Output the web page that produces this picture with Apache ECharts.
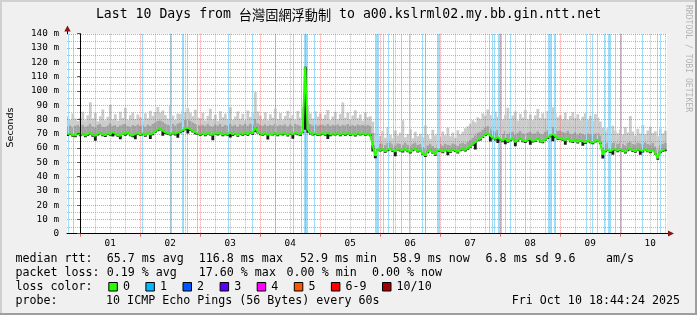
<!DOCTYPE html>
<html><head><meta charset="utf-8">
<script src="https://cdn.jsdelivr.net/npm/echarts@6/dist/echarts.min.js"></script>
<style>html,body{margin:0;padding:0;background:#f0f0f0}#c{width:697px;height:315px}</style>
</head><body><div id="c"></div>
<script>
// time: hours from Oct 1 00:00; first hourly sample at Sep 30 19:00
const firstHour = -5;
const xMin = -5.26, xMax = 234.74;
// median rtt (ms)
const med = [
69.5,70.2,69.1,68.8,70.4,
69.3,70.1,68.7,69.8,70.6,69.2,68.5,69.9,70.8,69.4,68.9,70.3,69.6,71.2,70.0,69.1,68.6,70.5,69.8,70.9,69.3,68.8,69.7,70.4,
69.6,70.2,69.0,70.7,69.5,70.1,71.8,72.9,73.4,72.2,71.0,70.4,69.8,70.6,69.9,70.8,71.5,72.4,73.6,74.2,73.1,72.0,70.9,70.2,
69.7,70.3,69.4,70.6,69.8,69.2,70.5,69.9,70.7,69.3,70.1,69.6,70.8,69.5,70.2,69.0,70.4,69.8,70.6,69.7,71.0,70.3,74.5,71.2,
70.1,69.6,70.4,69.3,70.0,69.8,70.6,69.4,70.2,69.9,70.5,69.2,70.3,69.7,70.8,70.1,69.5,71.4,116.8,73.2,70.6,69.8,70.4,69.5,
69.9,70.3,69.6,70.7,69.4,70.1,69.8,70.5,69.3,70.2,69.7,70.6,69.5,70.0,69.2,70.4,69.8,70.3,69.6,70.1,69.4,62.0,54.5,59.3,
58.6,59.2,57.8,58.9,59.5,58.3,57.6,59.1,58.7,58.0,59.4,58.2,57.3,58.8,59.6,57.9,58.4,56.2,54.8,57.5,58.9,57.1,55.6,58.3,
58.7,57.4,58.9,58.1,57.6,59.0,58.3,57.2,58.8,59.4,58.6,59.9,61.2,62.7,64.1,65.8,66.4,68.1,69.5,70.3,68.7,67.2,66.4,67.6,
66.3,65.1,66.8,64.7,65.9,66.5,64.3,65.6,66.9,65.2,64.6,65.8,66.4,64.9,65.3,66.7,65.0,64.4,66.1,67.4,68.6,69.8,68.2,66.9,
67.1,66.2,65.4,66.8,65.1,64.6,65.9,64.2,65.3,64.8,63.9,65.2,64.5,63.7,64.9,65.6,63.8,55.4,58.2,59.1,57.6,58.8,59.4,58.1,
59.0,58.4,57.2,58.9,59.6,58.3,57.7,59.2,58.6,57.9,59.3,58.1,57.5,58.8,56.3,52.9,57.4,58.5,58.9
];
// lowest ping (ms)
const lo = [
68.4,69.1,67.9,67.6,69.3,
68.2,69.0,67.5,68.6,69.5,67.9,65.1,68.8,69.6,68.3,67.7,69.1,68.5,68.0,68.9,67.9,66.2,69.4,68.6,69.7,68.2,67.6,66.1,69.2,
68.5,69.0,67.8,69.6,66.3,68.9,70.6,71.7,72.2,68.5,69.8,69.3,68.7,69.5,68.7,67.2,70.4,71.2,72.5,70.1,72.0,70.9,69.7,69.1,
68.6,69.2,68.3,69.4,68.7,65.4,69.4,68.8,69.6,68.2,69.0,68.5,67.3,68.4,69.1,67.9,69.3,68.6,69.5,68.6,69.9,69.2,71.0,70.1,
69.0,68.5,69.3,66.0,68.9,68.7,69.5,68.3,69.1,68.8,69.4,68.1,69.2,66.4,69.7,69.0,68.4,70.3,72.8,70.6,69.5,68.7,69.3,68.4,
68.8,69.2,68.5,66.3,68.3,69.0,68.7,69.4,68.2,69.1,68.6,69.5,68.4,68.9,68.1,69.3,68.7,69.2,68.5,69.0,68.3,57.5,52.8,58.2,
57.5,58.1,56.7,57.8,58.4,57.2,54.3,58.0,57.6,56.9,58.3,57.1,56.2,57.7,58.5,56.8,57.3,55.1,53.7,56.4,57.8,56.0,54.5,57.2,
57.6,56.3,57.8,55.0,56.5,57.9,57.2,56.1,57.7,58.3,57.5,58.8,60.1,61.6,58.9,64.7,65.3,67.0,68.4,69.2,64.6,66.1,65.3,63.5,
65.2,64.0,62.7,63.6,64.8,65.4,61.2,64.5,65.8,64.1,63.5,64.7,62.3,63.8,64.2,65.6,63.9,63.3,65.0,66.3,67.5,64.7,67.1,65.8,
66.0,65.1,62.3,65.7,64.0,63.5,64.8,63.1,64.2,61.6,62.8,64.1,63.4,62.6,63.8,64.5,62.7,52.6,57.1,58.0,56.5,55.3,58.3,57.0,
57.9,57.3,56.1,57.8,58.5,57.2,56.6,58.1,55.3,56.8,58.2,57.0,56.4,57.7,55.2,51.8,56.3,57.4,57.8
];
// upper edge of the dense smoke (ms)
const hi = [
75.2,76.0,74.6,75.8,76.3,
75.0,76.4,74.8,75.7,77.1,75.3,74.5,76.2,76.8,75.1,74.9,76.0,77.4,75.6,76.3,74.7,75.9,76.6,77.0,75.4,74.8,76.1,75.5,76.7,
75.8,76.2,75.1,76.5,75.6,76.9,77.8,79.0,79.4,78.6,77.2,76.4,76.0,76.8,75.7,77.1,77.9,78.8,79.6,80.1,79.2,78.0,77.0,76.3,
75.9,76.5,75.4,76.8,75.6,75.2,76.6,75.8,76.9,75.3,76.2,75.7,77.1,75.5,76.4,75.0,76.7,75.9,76.8,75.6,77.2,76.5,80.3,77.4,
76.3,75.7,76.6,75.4,76.1,75.9,76.8,75.5,76.4,76.0,76.7,75.3,76.5,75.8,77.0,76.2,75.7,77.6,117.5,79.4,76.9,76.0,76.6,75.7,
76.1,76.5,75.8,76.9,75.6,76.3,76.0,76.7,75.5,76.4,75.9,76.8,75.7,76.2,75.4,76.6,76.0,76.5,75.8,76.3,75.6,70.5,60.2,63.5,
62.8,63.4,62.1,63.6,64.0,62.7,61.9,63.3,62.9,62.4,63.8,62.5,61.8,63.1,63.9,62.3,62.8,60.9,59.6,62.0,63.2,61.5,60.2,62.6,
63.0,61.8,63.2,62.5,61.9,63.4,62.7,61.6,63.1,63.8,63.0,64.3,65.8,67.4,68.9,70.7,71.3,73.0,74.6,75.4,73.8,72.2,71.5,72.7,
71.4,70.2,71.9,69.8,71.0,71.6,69.5,70.7,72.0,70.3,69.8,70.9,71.5,70.1,70.4,71.8,70.2,69.6,71.2,72.5,73.7,74.9,73.3,72.0,
72.2,71.3,70.5,71.9,70.2,69.8,71.0,69.4,70.5,70.0,69.1,70.4,69.7,68.9,70.1,70.8,69.0,60.5,62.9,63.8,62.4,63.5,64.1,62.9,
63.7,63.1,62.0,63.6,64.3,63.0,62.5,63.9,63.4,62.7,64.0,62.9,62.3,63.5,61.2,59.0,62.1,63.2,63.6
];
// highest ping (ms)
const mx = [
82.4,79.8,84.1,80.6,78.9,
81.2,85.3,79.4,83.0,92.1,80.7,84.6,78.8,82.3,86.9,79.5,81.8,90.3,80.2,83.7,79.1,85.4,81.0,88.2,79.7,82.9,84.8,80.3,83.5,
81.6,79.2,84.4,80.8,86.1,82.5,85.2,88.7,84.9,86.3,83.1,80.4,89.5,82.7,79.6,84.2,83.8,86.5,85.1,87.9,84.6,82.2,86.8,81.4,
80.9,84.7,79.3,82.6,87.4,80.1,83.3,79.0,85.8,81.5,84.0,80.2,88.6,79.8,82.1,85.6,80.5,83.9,79.4,86.2,81.7,84.3,99.2,85.5,
82.8,80.0,85.1,79.5,83.6,81.2,87.7,80.3,84.5,79.9,82.4,86.0,80.8,83.1,79.7,85.9,81.3,88.4,118.5,89.6,84.2,80.6,85.7,81.9,
84.1,80.4,83.2,86.6,79.6,82.0,85.3,80.1,83.8,91.8,81.1,84.9,79.8,82.7,86.4,80.9,83.4,79.2,85.0,81.6,82.3,78.4,70.5,72.8,
68.4,71.9,67.2,74.5,69.1,66.8,72.3,68.7,70.6,79.4,67.5,69.8,73.2,66.9,71.4,68.2,70.0,67.6,75.8,69.3,66.5,72.7,68.9,70.4,
67.8,71.6,69.0,74.1,68.3,70.9,67.1,72.5,69.7,71.3,73.8,75.2,76.9,79.4,78.1,81.6,80.3,84.2,82.5,86.9,83.1,80.6,85.4,81.8,
84.7,79.9,83.3,88.1,80.5,82.8,85.6,79.3,84.0,81.2,86.8,80.1,83.5,79.6,82.9,87.3,81.0,84.4,80.7,85.9,83.2,88.6,84.1,81.5,
83.0,80.2,84.8,79.7,82.4,85.1,80.8,83.6,79.4,81.9,84.3,80.0,82.6,79.1,83.8,81.3,78.6,74.2,71.5,73.9,69.8,75.6,72.1,70.3,
72.8,69.5,74.7,70.9,82.4,71.6,68.8,73.4,70.2,76.1,69.7,72.3,74.9,70.5,71.8,68.3,73.6,70.1,72.0
];
// packet-loss periods (hours from Oct 1 00:00) and lost pings
const lossStart = [-4.9,-2.9,24.6,35.9,40.6,42.9,46.9,59.1,68.6,77.9,85.3,88.3,89.5,93.4,118.0,121.3,123.3,125.3,128.3,131.7,136.6,138.0,142.6,163.7,164.6,165.7,167.3,169.9,171.9,178.0,187.3,189.7,202.3,204.9,206.7,209.5,211.1,214.1,215.9,224.7,230.9,232.1];
const lossEnd   = [-4.5,-2.5,25.0,36.8,41.5,43.3,47.3,59.5,69.0,78.3,85.7,88.7,91.0,93.8,119.7,121.7,123.7,125.7,128.7,132.1,137.0,138.4,143.7,164.1,165.0,166.1,168.7,170.3,172.3,178.4,188.8,190.5,202.7,205.3,207.1,209.9,212.4,214.5,216.7,225.1,231.3,232.5];
const lossCount = [1,1,1,1,1,1,1,1,1,1,1,1,1,1,1,1,1,1,1,1,1,1,1,1,1,1,1,1,1,1,1,1,1,1,1,1,1,1,1,1,1,1];
const dayLabels = ['01','02','03','04','05','06','07','08','09','10'];
const lossLabels = ['0','1','2','3','4','5','6-9','10/10'];
const lossColors = ['#26ff00','#00b8ff','#0059ff','#5e00ff','#ff00ff','#ff5500','#ff0000','#a10000'];
const lossBgColor = '#9fdcf7';
// legend rows: text pieces
const legendRows = [
  ['median rtt:', '65.7 ms avg', '116.8 ms max', '52.9 ms min', '58.9 ms now', '6.8 ms sd', '9.6', 'am/s'],
  ['packet loss:', '0.19 % avg', '17.60 % max', '0.00 % min', '0.00 % now'],
  ['loss color:'],
  ['probe:', '10 ICMP Echo Pings (56 Bytes) every 60s']
];
const dateText = 'Fri Oct 10 18:44:24 2025';

// ---- layout of legend pieces (pixels) ----
const legendX = [
  [15.4, 106.7, 198.8, 300.0, 392.7, 485.6, 554.6, 606.1],
  [15.4, 106.7, 198.8, 286.6, 371.9],
  [15.4],
  [15.4, 106.1]
];
const rowY = [259.3, 273.3, 287.3, 301];

// ---- build ----
const hours = med.map((_, i) => firstHour + i);
const smokeData = hours.map((h, i) => [h, lo[i], med[i], hi[i], mx[i]]);
const medData = hours.map((h, i) => [h, med[i]]);
const dayLabelHours = dayLabels.map((_, i) => 12 + 24 * i);
const midnights = dayLabels.map((_, i) => 24 * i);
const sixHours = [];
for (let h = 6; h <= xMax; h += 6) if (h % 24 !== 0) sixHours.push(h);
const yMajor = [], yMinor = [];
for (let v = 10; v <= 140; v += 10) yMajor.push(v);
for (let v = 5; v < 140; v += 10) yMinor.push(v);

const MONO = 'DejaVu Sans Mono';
const GL = 67, GT = 33.7, GW = 600, GH = 200;
const chart = echarts.init(document.getElementById('c'), null, {renderer: 'canvas'});

// crisp dotted grid lines drawn through the axes' scales
const gridSeries = (name, color, xs, ys, z) => ({
  type: 'custom', name, z, silent: true, clip: false,
  data: xs.map(h => [h, 0, 0]).concat(ys.map(v => [xMin, v, 1])),
  encode: {x: 0, y: 1},
  renderItem: (params, api) => {
    const cs = params.coordSys;
    const p = api.coord([api.value(0), api.value(1)]);
    const shape = api.value(2) === 0
      ? {x1: Math.round(p[0]) + 0.5, y1: cs.y, x2: Math.round(p[0]) + 0.5, y2: cs.y + cs.height}
      : {x1: cs.x, y1: Math.round(p[1]) + 0.5, x2: cs.x + cs.width, y2: Math.round(p[1]) + 0.5};
    return {type: 'line', shape, style: {stroke: color, lineWidth: 1, lineDash: [1, 1]}};
  }
});

const columnX = (api, h) => {
  const a = api.coord([h - 0.5, 0])[0], b = api.coord([h + 0.5, 0])[0];
  return [a, b - a + 0.35];
};

const legendGraphics = [];
legendRows.forEach((row, r) => row.forEach((t, k) => legendGraphics.push({type: 'text', x: legendX[r][k], y: rowY[r], silent: true,
  style: {text: t, fontFamily: MONO, fontSize: 11.65, fill: '#000', align: 'left', verticalAlign: 'middle'}})));
legendGraphics.push({type: 'text', x: 680, y: rowY[3], silent: true,
  style: {text: dateText, fontFamily: MONO, fontSize: 11.65, fill: '#000', align: 'right', verticalAlign: 'middle'}});
let bx = 108.3;
lossLabels.forEach((lab, k) => {
  legendGraphics.push({type: 'rect', silent: true, shape: {x: bx + 0.5, y: 282.5, width: 8.5, height: 8.5},
    style: {fill: lossColors[k], stroke: '#000', lineWidth: 1}});
  legendGraphics.push({type: 'text', x: bx + 14.6, y: rowY[2], silent: true,
    style: {text: lab, fontFamily: MONO, fontSize: 11.65, fill: '#000', align: 'left', verticalAlign: 'middle'}});
  bx += 14.6 + lab.length * 7.0 + 15.5;
});

const option = {
  animation: false,
  backgroundColor: '#f0f0f0',
  grid: {left: GL, top: GT, width: GW, height: GH, show: true, backgroundColor: '#ffffff', borderWidth: 0},
  xAxis: {
    type: 'value', min: xMin, max: xMax, z: 10,
    axisLine: {show: true, onZero: false, lineStyle: {color: '#000', width: 1}},
    axisTick: {show: true, customValues: midnights, length: 3, lineStyle: {color: '#e07070'}},
    axisLabel: {customValues: dayLabelHours, margin: 4.6, fontFamily: MONO, fontSize: 9.33, lineHeight: 10, color: '#000',
      formatter: v => dayLabels[dayLabelHours.indexOf(v)] || ''},
    splitLine: {show: false}
  },
  yAxis: {
    type: 'value', min: 0, max: 140, interval: 10, z: 10,
    axisLine: {show: true, lineStyle: {color: '#000', width: 1}},
    axisTick: {show: true, length: 3, lineStyle: {color: '#555'}},
    axisLabel: {margin: 8, fontFamily: MONO, fontSize: 9.33, color: '#000',
      formatter: v => v === 0 ? '0' : v + ' m'},
    splitLine: {show: false}
  },
  series: [
    { // outer smoke: max and upper quartile
      type: 'custom', name: 'smoke', z: 2, silent: true, clip: true,
      data: smokeData, encode: {x: 0, y: [1, 2, 3, 4]},
      renderItem: (params, api) => {
        const h = api.value(0);
        const [x, w] = columnX(api, h);
        const yMed = api.coord([h, api.value(2)])[1];
        const yHi = api.coord([h, api.value(3)])[1];
        const yMx = api.coord([h, api.value(4)])[1];
        return {type: 'group', children: [
          {type: 'rect', shape: {x, y: yMx, width: w, height: yHi - yMx}, style: {fill: '#cbcbcb'}},
          {type: 'rect', shape: {x, y: yHi, width: w, height: yMed - yHi}, style: {fill: '#a4a4a4'}}
        ]};
      }
    },
    {
      type: 'custom', name: 'loss', z: 3, silent: true, clip: true,
      data: lossStart.map((s, i) => [s, lossEnd[i], lossCount[i]]),
      encode: {x: [0, 1]},
      renderItem: (params, api) => {
        const a = api.coord([api.value(0), 140]);
        const b = api.coord([api.value(1), 0]);
        const x = Math.round(a[0]);
        return {type: 'rect', shape: {x, y: a[1], width: Math.max(1, Math.round(b[0] - a[0])), height: b[1] - a[1]},
          style: {fill: lossBgColor}};
      }
    },
    gridSeries('gridMinor', 'rgba(140,140,140,0.6)', sixHours, yMinor, 4),
    gridSeries('gridMajor', 'rgba(230,80,80,0.6)', midnights, yMajor, 4),
    { // dense core: min ping up to median
      type: 'custom', name: 'core', z: 5, silent: true, clip: true,
      data: smokeData, encode: {x: 0, y: [1, 2]},
      renderItem: (params, api) => {
        const h = api.value(0);
        const [x, w] = columnX(api, h);
        const yLo = api.coord([h, api.value(1)])[1];
        const yMed = api.coord([h, api.value(2)])[1];
        return {type: 'rect', shape: {x, y: yMed, width: w, height: yLo - yMed}, style: {fill: '#1c1c1c'}};
      }
    },
    {type: 'line', name: 'median', data: medData, symbol: 'none', z: 6, silent: true,
      lineStyle: {color: '#26ff00', width: 2}, emphasis: {disabled: true}}
  ],
  graphic: [
    {type: 'rect', shape: {x: 0, y: 0, width: 697, height: 2}, style: {fill: '#d0d0d0'}, silent: true},
    {type: 'rect', shape: {x: 0, y: 0, width: 2, height: 315}, style: {fill: '#d0d0d0'}, silent: true},
    {type: 'rect', shape: {x: 0, y: 313, width: 697, height: 2}, style: {fill: '#9e9e9e'}, silent: true},
    {type: 'rect', shape: {x: 695, y: 0, width: 2, height: 315}, style: {fill: '#9e9e9e'}, silent: true},
    {type: 'text', x: 348.5, y: 15, silent: true,
      style: {text: '{a|Last 10 Days from }{c|台灣固網浮動制}{a| to a00.kslrml02.my.bb.gin.ntt.net}',
        align: 'center', verticalAlign: 'middle', fill: '#000',
        rich: {a: {fontFamily: MONO, fontSize: 13.2, fill: '#000'}, c: {fontFamily: 'Noto Sans CJK TC', fontSize: 13.2, fill: '#000'}}}},
    {type: 'text', x: 10.3, y: 127.5, rotation: Math.PI / 2, silent: true,
      style: {text: 'Seconds', fontFamily: 'DejaVu Sans', fontSize: 9.5, fill: '#000', align: 'center', verticalAlign: 'middle'}},
    {type: 'text', x: 688, y: 58.5, rotation: -Math.PI / 2, silent: true,
      style: {text: 'RRDTOOL / TOBI OETIKER', fontFamily: MONO, fontSize: 8.1, fill: '#b4b4b4', align: 'center', verticalAlign: 'middle'}},
    {type: 'line', shape: {x1: 67.5, y1: 34, x2: 67.5, y2: 29}, style: {stroke: '#000', lineWidth: 1}, silent: true},
    {type: 'polygon', shape: {points: [[64.3, 31.5], [67.5, 25.5], [70.7, 31.5]]}, style: {fill: '#8b1414'}, silent: true},
    {type: 'line', shape: {x1: 667, y1: 233.5, x2: 669, y2: 233.5}, style: {stroke: '#000', lineWidth: 1}, silent: true},
    {type: 'polygon', shape: {points: [[668, 230.5], [674, 233.5], [668, 236.5]]}, style: {fill: '#8b1414'}, silent: true}
  ].concat(legendGraphics)
};
chart.setOption(option);
</script>
</body></html>
